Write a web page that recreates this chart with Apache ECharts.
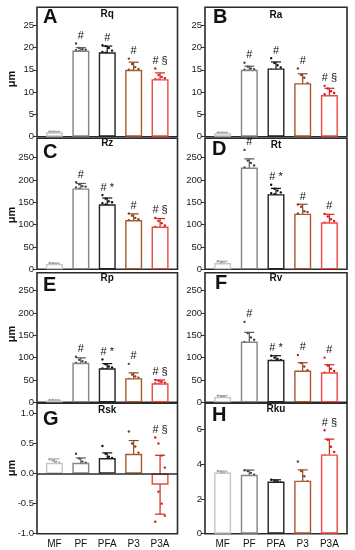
<!DOCTYPE html>
<html><head><meta charset="utf-8">
<script src="https://cdn.jsdelivr.net/npm/echarts@6/dist/echarts.min.js"></script>
<style>html,body{margin:0;padding:0;background:#fff}#c{width:355px;height:550px}</style>
</head><body><div id="c"></div>
<script>
// ---------------- DATA ----------------
const categories = ['MF', 'PF', 'PFA', 'P3', 'P3A'];

const rqMean = [1.0, 19.3, 18.9, 15.0, 12.9];
const rqSD   = [0.2, 0.65, 1.4, 1.7, 1.4];
const rqDots = [
  [1.1, 1.0, 0.9, 1.05, 0.95, 1.0],
  [20.9, 19.9, 19.6, 19.4, 19.2, 19.0, 18.9, 18.8, 19.5, 19.1],
  [20.5, 20.3, 19.9, 19.3, 19.0, 18.8, 18.5, 18.0, 17.5],
  [17.5, 16.3, 15.6, 15.2, 15.0, 14.8, 14.5, 14.0, 13.6],
  [15.3, 13.8, 13.4, 13.1, 12.9, 12.8, 12.5, 12.2, 11.9, 11.5]
];
const rqAnn = ['', '#', '#', '#', '# §'];

const raMean = [0.8, 15.0, 15.3, 12.0, 9.35];
const raSD   = [0.2, 0.8, 1.45, 2.1, 1.5];
const raDots = [
  [0.9, 0.8, 0.7, 0.85, 0.75],
  [16.6, 15.7, 15.3, 15.1, 15.0, 14.8, 14.5, 14.2, 13.6],
  [17.6, 16.5, 16.0, 15.5, 15.0, 14.5, 14.0, 12.9],
  [15.3, 13.8, 13.2, 12.0, 11.5, 11.0, 10.5, 10.3, 10.2],
  [11.4, 10.8, 10.2, 9.8, 9.5, 9.0, 8.5, 7.8, 6.9]
];
const raAnn = ['', '#', '#', '#', '# §'];

const rzMean = [12, 181, 145.5, 110, 95.5];
const rzSD   = [2, 11, 14, 14, 18];
const rzDots = [
  [14, 12, 11, 13, 10],
  [195, 190, 186, 185, 183, 180, 177, 175, 170],
  [166, 158, 152, 150, 148, 145, 142, 138, 132],
  [125, 120, 115, 112, 110, 105, 100, 98, 97],
  [115, 108, 103, 98, 95, 92, 90, 85, 80]
];
const rzAnn = ['', '#', '# *', '#', '# §'];

const rtMean = [14, 227.5, 168, 124.5, 105];
const rtSD   = [4, 19.5, 13, 21, 18];
const rtDots = [
  [18, 15, 13, 12, 11],
  [267, 243, 238, 232, 228, 224, 218, 210, 205],
  [189, 180, 176, 172, 170, 168, 165, 162, 158],
  [145, 140, 130, 128, 125, 120, 115, 110, 103],
  [124, 118, 112, 108, 104, 100, 95, 90, 85]
];
const rtAnn = ['', '#', '# *', '#', '#'];

const rpMean = [4, 88.5, 76, 54, 42.5];
const rpSD   = [1, 11, 10.5, 12, 7.5];
const rpDots = [
  [5, 4, 3, 4, 5],
  [102, 95, 92, 90, 88, 86, 84, 80, 78],
  [96, 85, 80, 78, 76, 74, 72, 68, 66],
  [86, 62, 58, 55, 52, 50, 47, 44, 40],
  [50, 48, 46, 44, 42, 40, 38, 36]
];
const rpAnn = ['', '#', '# *', '#', '# §'];

const rvMean = [12, 136, 95, 71, 67];
const rvSD   = [3, 20.5, 9.3, 17.5, 17];
const rvDots = [
  [15, 12, 10, 9, 13],
  [180, 155, 145, 140, 135, 130, 125, 115, 100],
  [104, 100, 97, 95, 93, 91, 88, 85],
  [106, 88, 80, 72, 68, 64, 60, 56, 54],
  [100, 82, 75, 70, 66, 62, 58, 52, 48]
];
const rvAnn = ['', '#', '# *', '#', '#'];

const rskMean = [0.18, 0.18, 0.26, 0.33, -0.185];
const rskSD   = [0.065, 0.08, 0.085, 0.22, 0.49];
const rskDots = [
  [0.24, 0.22, 0.2, 0.18, 0.15, 0.12, 0.02],
  [0.33, 0.25, 0.2, 0.18, 0.15, 0.12, 0.1, 0.08],
  [0.46, 0.33, 0.28, 0.26, 0.24, 0.22, 0.18],
  [0.7, 0.5, 0.45, 0.35, 0.3, 0.2, 0.1, 0.02],
  [0.6, 0.5, 0.3, 0.1, -0.1, -0.3, -0.5, -0.7, -0.8]
];
const rskAnn = ['', '', '', '', '# §'];

const rkuMean = [3.52, 3.39, 3.0, 3.05, 4.56];
const rkuSD   = [0.08, 0.27, 0.1, 0.62, 0.88];
const rkuDots = [
  [3.6, 3.55, 3.5, 3.45],
  [3.65, 3.6, 3.5, 3.4, 3.3, 2.97],
  [3.1, 3.05, 3.0, 2.95, 2.9],
  [4.15, 3.6, 3.3, 3.0, 2.8, 2.5, 2.3],
  [5.95, 5.4, 5.0, 4.7, 4.5, 4.3, 4.0, 3.7, 3.5]
];
const rkuAnn = ['', '', '', '', '# §'];

const ticksSmall = [0, 5, 10, 15, 20, 25];
const ticksLarge = [0, 50, 100, 150, 200, 250];
const ticksRsk = [-1.0, -0.5, 0.0, 0.5, 1.0];
const ticksRku = [0, 2, 4, 6];

const panels = [
  {letter: 'A', name: 'Rq',  mean: rqMean,  sd: rqSD,  dots: rqDots,  ann: rqAnn,  yMin: 0,  yMax: 29,   ticks: ticksSmall, fmt: v => String(v)},
  {letter: 'B', name: 'Ra',  mean: raMean,  sd: raSD,  dots: raDots,  ann: raAnn,  yMin: 0,  yMax: 29,   ticks: ticksSmall, fmt: v => String(v)},
  {letter: 'C', name: 'Rz',  mean: rzMean,  sd: rzSD,  dots: rzDots,  ann: rzAnn,  yMin: 0,  yMax: 293,  ticks: ticksLarge, fmt: v => String(v)},
  {letter: 'D', name: 'Rt',  mean: rtMean,  sd: rtSD,  dots: rtDots,  ann: rtAnn,  yMin: 0,  yMax: 293,  ticks: ticksLarge, fmt: v => String(v)},
  {letter: 'E', name: 'Rp',  mean: rpMean,  sd: rpSD,  dots: rpDots,  ann: rpAnn,  yMin: 0,  yMax: 290,  ticks: ticksLarge, fmt: v => String(v)},
  {letter: 'F', name: 'Rv',  mean: rvMean,  sd: rvSD,  dots: rvDots,  ann: rvAnn,  yMin: 0,  yMax: 290,  ticks: ticksLarge, fmt: v => String(v)},
  {letter: 'G', name: 'Rsk', mean: rskMean, sd: rskSD, dots: rskDots, ann: rskAnn, yMin: -1, yMax: 1.17, ticks: ticksRsk,  fmt: v => v.toFixed(1)},
  {letter: 'H', name: 'Rku', mean: rkuMean, sd: rkuSD, dots: rkuDots, ann: rkuAnn, yMin: 0,  yMax: 7.5,  ticks: ticksRku,  fmt: v => String(v)}
];

// ---------------- LAYOUT & STYLE ----------------
const FONT = '"Liberation Sans", Arial, Helvetica, sans-serif';
const colLeft = [37, 205], colRight = [177.5, 347];
const rowTop = [7.3, 138.3, 272.7, 403.3], rowBottom = [136.7, 269.3, 402.3, 533.7];
const letterY = [17, 17, 152, 149, 285, 283.5, 419, 415];
const letterX = [43, 213, 43, 212, 43, 215, 43, 212];
const titleY = [14.5, 15, 143.5, 145, 278, 278.5, 410, 409];
const unitY = [79, 215, 334, 468];
const barColor  = ['#c6c6c6', '#858585', '#222222', '#a9592d', '#ea4a42'];
const markColor = ['#a8a8a8', '#555555', '#111111', '#8f4620', '#d8221e'];
const dotColor  = ['#999999', '#444444', '#111111', '#8a3f18', '#d11a16'];
const jitter = [-4.8, -1.6, 1.6, 4.8];

const chart = echarts.init(document.getElementById('c'), null, {renderer: 'canvas'});
const grids = [], xAxes = [], yAxes = [], series = [], graphics = [];

panels.forEach((p, k) => {
  const col = k % 2, row = Math.floor(k / 2);
  const left = colLeft[col], top = rowTop[row];
  const width = colRight[col] - left, height = rowBottom[row] - top;
  grids.push({left, top, width, height, show: true, borderColor: '#2b2b2b', borderWidth: 1.6, backgroundColor: 'transparent'});
  xAxes.push({
    type: 'value', gridIndex: k, min: -0.66, max: 4.66, position: 'bottom',
    axisLine: {show: false, onZero: false}, axisTick: {show: false}, splitLine: {show: false},
    axisLabel: {show: row === 3, customValues: [0, 1, 2, 3, 4], formatter: v => categories[Math.round(v)],
      fontSize: 10, color: '#111', margin: 6, fontFamily: FONT}
  });
  yAxes.push({
    type: 'value', gridIndex: k, min: p.yMin, max: p.yMax, position: 'left',
    axisLine: {show: false, onZero: false}, splitLine: {show: false},
    axisTick: {show: true, length: 4, customValues: p.ticks, lineStyle: {color: '#333', width: 1}},
    axisLabel: {customValues: p.ticks, formatter: p.fmt, fontSize: 9.5, color: '#222', margin: 3, fontFamily: FONT}
  });
  const barSeries = {
    type: 'bar', xAxisIndex: k, yAxisIndex: k, barWidth: 17, silent: true,
    data: p.mean.map((v, i) => ({value: [i, v], itemStyle: {color: '#ffffff', borderColor: barColor[i], borderWidth: 1.4}}))
  };
  if (p.yMin < 0) {
    barSeries.markLine = {silent: true, symbol: 'none', label: {show: false},
      lineStyle: {color: '#2b2b2b', width: 1.5, type: 'solid'}, data: [{yAxis: 0}]};
  }
  series.push(barSeries);
  // data dots
  const dotData = [];
  p.dots.forEach((arr, i) => {
    const order = arr.map((v, j) => j).sort((a, b) => arr[b] - arr[a]);
    order.forEach((j, rank) => dotData.push([i, arr[j], rank]));
  });
  series.push({
    type: 'custom', xAxisIndex: k, yAxisIndex: k, silent: true, data: dotData, encode: {x: 0, y: 1},
    renderItem: (params, api) => {
      const i = api.value(0), pt = api.coord([i, api.value(1)]);
      return {type: 'circle', shape: {cx: pt[0] + jitter[api.value(2) % 4], cy: pt[1], r: 1.2}, style: {fill: dotColor[i]}};
    }
  });
  // error bars
  series.push({
    type: 'custom', xAxisIndex: k, yAxisIndex: k, silent: true, encode: {x: 0, y: 1},
    data: p.mean.map((m, i) => [i, m, p.sd[i]]),
    renderItem: (params, api) => {
      const i = api.value(0), m = api.value(1), s = api.value(2);
      const a = api.coord([i, m + s]), b = api.coord([i, m - s]);
      const st = {stroke: markColor[i], lineWidth: 1.2};
      return {type: 'group', children: [
        {type: 'line', shape: {x1: a[0], y1: a[1], x2: b[0], y2: b[1]}, style: st},
        {type: 'line', shape: {x1: a[0] - 5, y1: a[1], x2: a[0] + 5, y2: a[1]}, style: st},
        {type: 'line', shape: {x1: b[0] - 5, y1: b[1], x2: b[0] + 5, y2: b[1]}, style: st}
      ]};
    }
  });
  // significance annotations
  series.push({
    type: 'custom', xAxisIndex: k, yAxisIndex: k, silent: true, encode: {x: 0, y: 1},
    data: p.ann.map((t, i) => [i, Math.max(p.mean[i] + p.sd[i], Math.max(...p.dots[i]))]),
    renderItem: (params, api) => {
      const i = api.value(0), pt = api.coord([i, api.value(1)]);
      const t = p.ann[i];
      if (!t) return null;
      return {type: 'text', x: pt[0], y: pt[1] - 2, style: {text: t, fill: '#111', font: '11px ' + FONT, textAlign: 'center', textVerticalAlign: 'bottom'}};
    }
  });
  graphics.push({type: 'text', x: letterX[k], y: letterY[k], style: {text: p.letter, fill: '#111', font: 'bold 20px ' + FONT, textAlign: 'left', textVerticalAlign: 'middle'}});
  graphics.push({type: 'text', x: left + width / 2, y: titleY[k], style: {text: p.name, fill: '#111', font: 'bold 10px ' + FONT, textAlign: 'center', textVerticalAlign: 'middle'}});
  if (col === 0) {
    graphics.push({type: 'text', x: 12, y: unitY[row], rotation: Math.PI / 2, style: {text: 'μm', fill: '#111', font: 'bold 11px ' + FONT, textAlign: 'center', textVerticalAlign: 'middle'}});
  }
});

chart.setOption({
  animation: false,
  backgroundColor: '#ffffff',
  grid: grids, xAxis: xAxes, yAxis: yAxes, series: series,
  graphic: {elements: graphics}
});
</script>
</body></html>
